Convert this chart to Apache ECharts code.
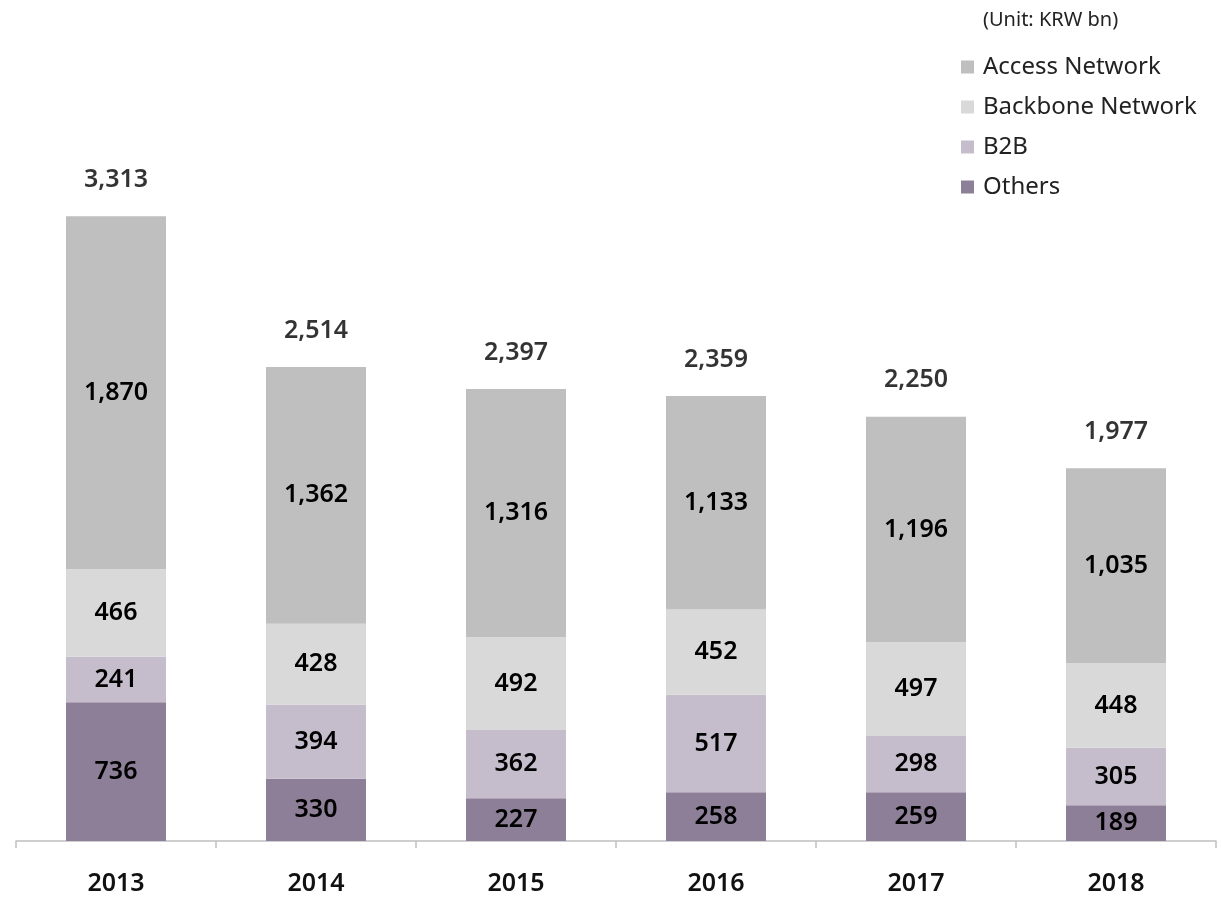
<!DOCTYPE html>
<html>
<head>
<meta charset="utf-8">
<script src="https://cdn.jsdelivr.net/npm/echarts@6/dist/echarts.min.js"></script>
<style>html,body{margin:0;padding:0;background:#fff;}#c{width:1221px;height:897px;}</style>
</head>
<body>
<div id="c"></div>
<script>
const years = ['2013', '2014', '2015', '2016', '2017', '2018'];
const others = [736, 330, 227, 258, 259, 189];
const b2b = [241, 394, 362, 517, 298, 305];
const backbone = [466, 428, 492, 452, 497, 448];
const access = [1870, 1362, 1316, 1133, 1196, 1035];
const totals = [3313, 2514, 2397, 2359, 2250, 1977];
const unitLabel = '(Unit: KRW bn)';

const FONT = '"Noto Sans", "Open Sans", sans-serif';
const fmt = v => v.toLocaleString('en-US');
const segLabel = {
  show: true, position: 'inside', color: '#000', fontFamily: FONT,
  fontSize: 25, fontWeight: 600,
  formatter: p => fmt(p.value)
};
function barSeries(name, data, color) {
  return {
    name, type: 'bar', stack: 'total', data, barWidth: '50%',
    itemStyle: { color }, label: segLabel, emphasis: { disabled: true }
  };
}
const chart = echarts.init(document.getElementById('c'), null, { renderer: 'canvas' });
chart.setOption({
  animation: false,
  backgroundColor: '#fff',
  title: {
    text: unitLabel, left: 983, top: 10, padding: 0,
    textStyle: { fontFamily: FONT, fontSize: 20, fontWeight: 'normal', color: '#222' }
  },
  legend: {
    orient: 'vertical', left: 961, top: 55, padding: 0,
    data: ['Access Network', 'Backbone Network', 'B2B', 'Others'],
    icon: 'rect', itemWidth: 13, itemHeight: 13, itemGap: 16,
    textStyle: { fontFamily: FONT, fontSize: 24, color: '#222', lineHeight: 24, padding: [0, 0, 0, 4] },
    selectedMode: false
  },
  grid: { left: 16, right: 5, top: 181, bottom: 56, containLabel: false },
  xAxis: {
    type: 'category', data: years,
    axisLine: { lineStyle: { color: '#bfbfbf', width: 1.5 } },
    axisTick: { show: true, length: 7, lineStyle: { color: '#bfbfbf', width: 1.5 } },
    axisLabel: { color: '#111', fontFamily: FONT, fontSize: 25, fontWeight: 600, margin: 30 }
  },
  yAxis: { type: 'value', min: 0, max: 3500, show: false, splitLine: { show: false } },
  series: [
    barSeries('Others', others, '#8e7f98'),
    barSeries('B2B', b2b, '#c6bdcc'),
    barSeries('Backbone Network', backbone, '#d9d9d9'),
    barSeries('Access Network', access, '#bfbfbf'),
    {
      name: 'Total', type: 'scatter', data: totals, symbolSize: 0, silent: true,
      label: {
        show: true, position: 'top', distance: 24, color: '#000', fontFamily: FONT,
        fontSize: 25, fontWeight: 600, formatter: p => fmt(p.value)
      }
    }
  ]
});
</script>
</body>
</html>
